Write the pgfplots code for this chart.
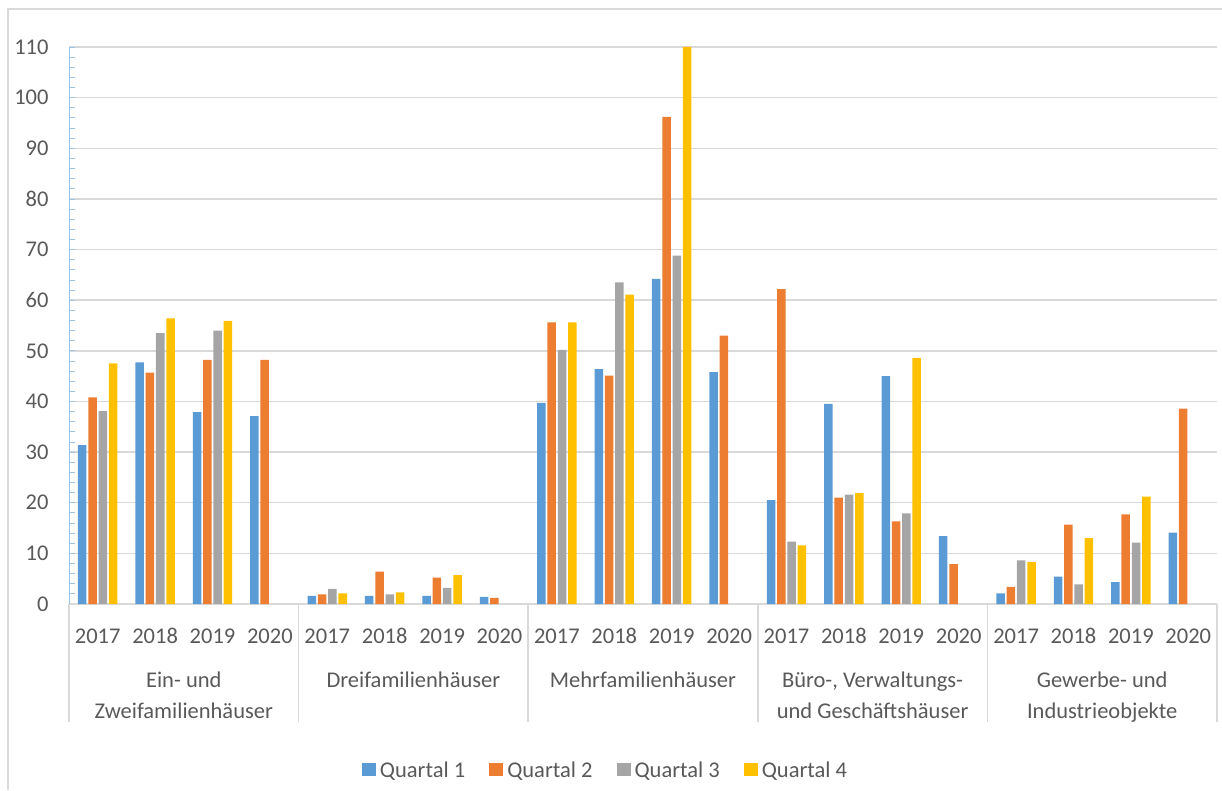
\documentclass[border=0pt]{standalone}
\usepackage{pgfplots}
\pgfplotsset{compat=1.18}
\usepackage{fontspec}
\setmainfont{Carlito}
\definecolor{q1}{HTML}{5B9BD5}
\definecolor{q2}{HTML}{ED7D31}
\definecolor{q3}{HTML}{A5A5A5}
\definecolor{q4}{HTML}{FFC000}
\definecolor{txt}{HTML}{595959}
\definecolor{gridc}{HTML}{D9D9D9}
\definecolor{yax}{HTML}{9DC3E6}
\newcommand{\lbl}{\fontsize{22.5}{31}\selectfont}
\begin{document}
\begin{tikzpicture}[x=1pt,y=1pt]
\useasboundingbox (0,0) rectangle (1222,790);
% chart area frame
\draw[gridc, line width=1.2pt] (8,0) -- (8,781) -- (1222,781);
\begin{axis}[
  at={(69pt,186pt)}, anchor=south west,
  scale only axis, width=1148pt, height=557pt,
  ybar=1.8pt, bar width=8.5pt,
  xmin=-0.5, xmax=19.5, ymin=0, ymax=110,
  axis x line*=bottom, axis y line*=left,
  x axis line style={draw=gridc, line width=1.5pt, -},
  y axis line style={draw=yax, line width=0.8pt, -},
  xtick={0,...,19},
  xticklabels={2017,2018,2019,2020,2017,2018,2019,2020,2017,2018,2019,2020,2017,2018,2019,2020,2017,2018,2019,2020},
  x tick style={draw=none},
  ytick={0,10,...,110},
  minor y tick num=4,
  tick align=inside,
  y tick style={draw=yax, line width=0.8pt},
  major tick length=6pt, minor tick length=6pt,
  ymajorgrids, grid style={draw=gridc, line width=1.5pt},
  /pgf/number format/assume math mode=true,
  tick label style={font=\lbl, text=txt},
  yticklabel style={anchor=east, xshift=-17pt},
  xticklabel style={anchor=base, yshift=-39pt},
  clip=false,
  legend columns=4,
  legend style={at={(0.4665,-0.298)}, anchor=center, draw=none, fill=none,
    font=\lbl, text=txt, nodes={inner sep=0pt},
    /tikz/every odd column/.append style={column sep=4pt},
    /tikz/every even column/.append style={column sep=24pt}},
  legend image code/.code={\fill[#1] (0pt,-6.5pt) rectangle (14pt,6.5pt);},
]
\addplot[fill=q1, draw=none] coordinates {
  (0,31.4) (1,47.7) (2,37.9) (3,37.1)
  (4,1.6) (5,1.6) (6,1.6) (7,1.4)
  (8,39.7) (9,46.4) (10,64.2) (11,45.8)
  (12,20.5) (13,39.5) (14,45.0) (15,13.4)
  (16,2.1) (17,5.4) (18,4.3) (19,14.1)};
\addplot[fill=q2, draw=none] coordinates {
  (0,40.8) (1,45.7) (2,48.2) (3,48.2)
  (4,1.9) (5,6.4) (6,5.2) (7,1.2)
  (8,55.6) (9,45.1) (10,96.2) (11,53.0)
  (12,62.2) (13,21.0) (14,16.3) (15,7.9)
  (16,3.4) (17,15.7) (18,17.7) (19,38.6)};
\addplot[fill=q3, draw=none] coordinates {
  (0,38.1) (1,53.5) (2,54.0)
  (4,3.0) (5,1.9) (6,3.2)
  (8,50.2) (9,63.5) (10,68.8)
  (12,12.3) (13,21.6) (14,17.9)
  (16,8.6) (17,3.9) (18,12.1)};
\addplot[fill=q4, draw=none] coordinates {
  (0,47.5) (1,56.4) (2,55.9)
  (4,2.1) (5,2.3) (6,5.7)
  (8,55.6) (9,61.1) (10,110)
  (12,11.6) (13,21.9) (14,48.6)
  (16,8.3) (17,13.0) (18,21.2)};
\legend{Quartal 1,Quartal 2,Quartal 3,Quartal 4}
% multi-level category axis: group separators and group names
\pgfplotsinvokeforeach{-0.5,3.5,7.5,11.5,15.5,19.5}{
  \draw[gridc, line width=1.5pt] (axis cs:#1,0) -- ([yshift=-118pt]axis cs:#1,0);
}
\tikzset{grp/.style={anchor=base, font=\lbl, text=txt, inner sep=0pt}}
\node[grp] at ([yshift=-83pt]axis cs:1.5,0) {Ein- und};
\node[grp] at ([yshift=-114pt]axis cs:1.5,0) {Zweifamilienhäuser};
\node[grp] at ([yshift=-83pt]axis cs:5.5,0) {Dreifamilienhäuser};
\node[grp] at ([yshift=-83pt]axis cs:9.5,0) {Mehrfamilienhäuser};
\node[grp] at ([yshift=-83pt]axis cs:13.5,0) {Büro-, Verwaltungs-};
\node[grp] at ([yshift=-114pt]axis cs:13.5,0) {und Geschäftshäuser};
\node[grp] at ([yshift=-83pt]axis cs:17.5,0) {Gewerbe- und};
\node[grp] at ([yshift=-114pt]axis cs:17.5,0) {Industrieobjekte};
\end{axis}
\end{tikzpicture}
\end{document}
